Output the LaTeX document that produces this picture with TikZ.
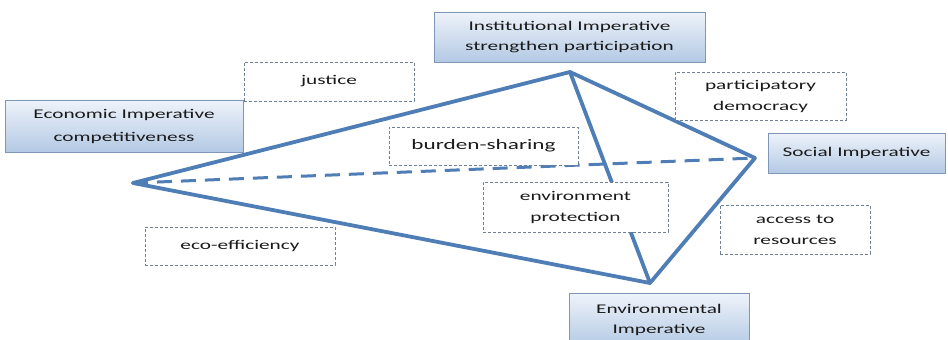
\documentclass[tikz,border=0pt]{standalone}
\usepackage{fontspec}
\setmainfont{Carlito}[FakeStretch=1.6]
\definecolor{linec}{HTML}{4F7DB5}
\definecolor{imptop}{HTML}{EEF3FA}
\definecolor{impbot}{HTML}{B3C9E4}
\definecolor{impdraw}{HTML}{7E97B8}
\definecolor{dashc}{HTML}{6F8094}
\definecolor{txt}{HTML}{1A1A1A}
\tikzset{
  imp/.style={draw=impdraw, line width=0.9pt, top color=imptop, bottom color=impbot,
    align=center, inner sep=0pt, text=txt, font=\fontsize{13.3}{20}\selectfont},
  note/.style={draw=dashc, line width=0.7pt, dash pattern=on 3pt off 2pt, fill=white,
    align=center, inner sep=0pt, text=txt, font=\fontsize{13.3}{21}\selectfont},
  edge/.style={draw=linec, line width=3.8pt, line join=round, line cap=round},
  dedge/.style={draw=linec, line width=3pt, dash pattern=on 15pt off 9pt}
}
\begin{document}
\begin{tikzpicture}[x=1pt,y=-1pt]
\useasboundingbox (0,0) rectangle (948,340);
\clip (0,0) rectangle (948,340);
\coordinate (L) at (133,183);
\coordinate (T) at (570,72);
\coordinate (R) at (755,158);
\coordinate (B) at (650,283);
\draw[dedge] (L) -- (R);
\draw[edge] (L) -- (T);
\draw[edge] (L) -- (B);
\draw[edge] (T) -- (R);
\draw[edge] (R) -- (B);
\draw[edge] (T) -- (B);

\node[note, minimum width=170pt, minimum height=39pt] (justice) at (329,81.5) {justice};
\node[note, minimum width=171pt, minimum height=48pt] (pd) at (760.5,96) {participatory\\democracy};
\node[note, minimum width=189pt, minimum height=38pt, font=\fontsize{14.5}{21}\selectfont] (bs) at (483.5,146) {burden-sharing};
\node[note, minimum width=185pt, minimum height=50pt] (ep) at (575.5,207) {environment\\protection};
\node[note, minimum width=150pt, minimum height=49pt] (ar) at (795,229.5) {access to\\resources};
\node[note, minimum width=190pt, minimum height=38pt] (ee) at (240,246) {eco-efficiency};

\node[imp, minimum width=238pt, minimum height=52pt, font=\fontsize{13.3}{23}\selectfont] (econ) at (124,126) {Economic Imperative\\competitiveness};
\node[imp, minimum width=271pt, minimum height=50pt] (inst) at (569.5,37) {Institutional Imperative\\strengthen participation};
\node[imp, minimum width=177pt, minimum height=40pt] (soc) at (856.5,153) {Social Imperative};
\node[imp, minimum width=180pt, minimum height=54pt, anchor=north] (env) at (659,293) {Environmental\\Imperative};
\end{tikzpicture}
\end{document}
